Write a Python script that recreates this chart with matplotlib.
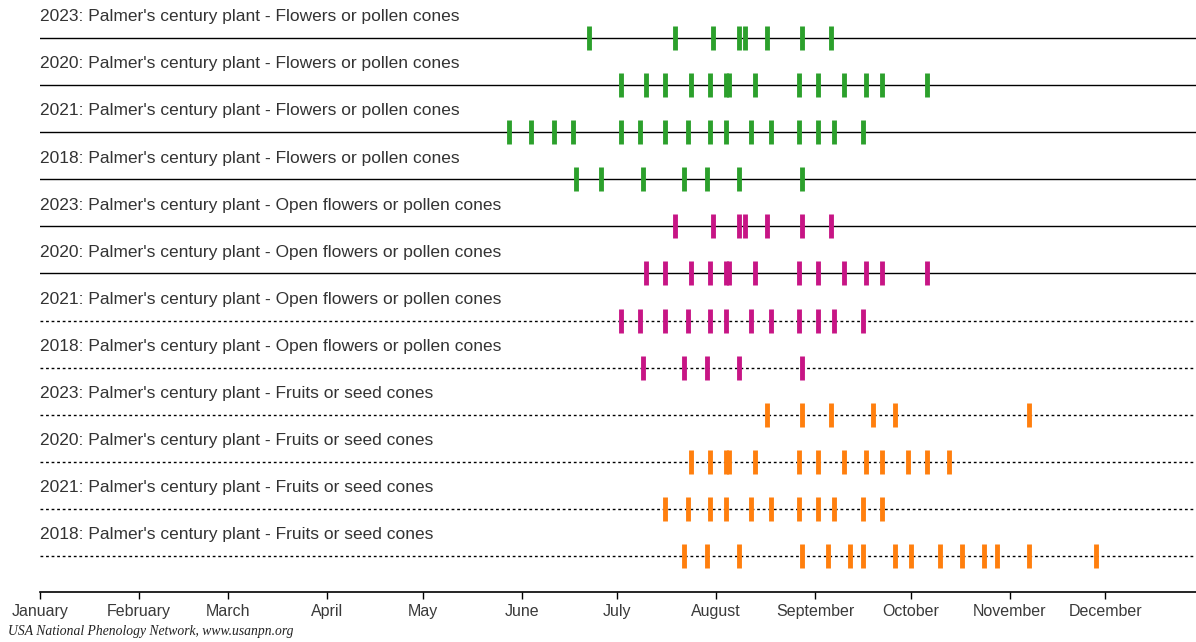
import matplotlib
matplotlib.use("Agg")
from matplotlib import pyplot as plt

labels = [
    "2023: Palmer's century plant - Flowers or pollen cones",
    "2020: Palmer's century plant - Flowers or pollen cones",
    "2021: Palmer's century plant - Flowers or pollen cones",
    "2018: Palmer's century plant - Flowers or pollen cones",
    "2023: Palmer's century plant - Open flowers or pollen cones",
    "2020: Palmer's century plant - Open flowers or pollen cones",
    "2021: Palmer's century plant - Open flowers or pollen cones",
    "2018: Palmer's century plant - Open flowers or pollen cones",
    "2023: Palmer's century plant - Fruits or seed cones",
    "2020: Palmer's century plant - Fruits or seed cones",
    "2021: Palmer's century plant - Fruits or seed cones",
    "2018: Palmer's century plant - Fruits or seed cones",
]
days = [
    [172, 199, 211, 219, 221, 228, 239, 248],
    [182, 190, 196, 204, 210, 215, 216, 224, 238, 244, 252, 259, 264, 278],
    [147, 154, 161, 167, 182, 188, 196, 203, 210, 215, 223, 229, 238, 244, 249, 258],
    [168, 176, 189, 202, 209, 219, 239],
    [199, 211, 219, 221, 228, 239, 248],
    [190, 196, 204, 210, 215, 216, 224, 238, 244, 252, 259, 264, 278],
    [182, 188, 196, 203, 210, 215, 223, 229, 238, 244, 249, 258],
    [189, 202, 209, 219, 239],
    [228, 239, 248, 261, 268, 310],
    [204, 210, 215, 216, 224, 238, 244, 252, 259, 264, 272, 278, 285],
    [196, 203, 210, 215, 223, 229, 238, 244, 249, 258, 264],
    [202, 209, 219, 239, 247, 254, 258, 268, 273, 282, 289, 296, 300, 310, 331],
]
phase = ["flowers"] * 4 + ["open"] * 4 + ["fruits"] * 4
solid = [True] * 6 + [False] * 6

months = ["January", "February", "March", "April", "May", "June", "July",
          "August", "September", "October", "November", "December"]
month_start = [0, 31, 59, 90, 120, 151, 181, 212, 243, 273, 304, 334]

colors = {"flowers": "#2ca02c", "open": "#c71585", "fruits": "#ff7f0e"}

W, H = 1196, 642
fig = plt.figure(figsize=(W / 100, H / 100), dpi=100)
ax = fig.add_axes([40 / W, 1 - 592 / H, (W - 40) / W, 592 / H])

row_h = 47.09
ax.set_xlim(0, (W - 40) / 3.19)
ax.set_ylim((592 - 38) / row_h, -38 / row_h)

for i, (lab, d) in enumerate(zip(labels, days)):
    if solid[i]:
        ax.axhline(i, color="black", lw=1.0, zorder=1)
    else:
        ax.axhline(i, color="black", lw=1.0, ls=(0, (2, 2)), zorder=1)
    ax.vlines(d, i - 0.255, i + 0.255, color=colors[phase[i]], lw=3.5, zorder=2)
    ax.text(0, i - 0.45, lab, fontsize=12.5, color="#333333", va="center",
            ha="left", family="Liberation Sans")

for s in ["top", "right", "left"]:
    ax.spines[s].set_visible(False)
ax.spines["bottom"].set_linewidth(1.2)
ax.set_yticks([])
ax.set_xticks(month_start)
ax.set_xticklabels(months, fontsize=11.5, color="#3a3a3a", family="Liberation Sans",
                   va="baseline")
ax.tick_params(axis="x", length=5, width=1, pad=12)

fig.text(8 / W, 1 - 632 / H, "USA National Phenology Network, www.usanpn.org",
         fontsize=9.8, style="italic", family="Liberation Serif", va="center",
         color="#222222")

fig.savefig("out.png", dpi=100)
